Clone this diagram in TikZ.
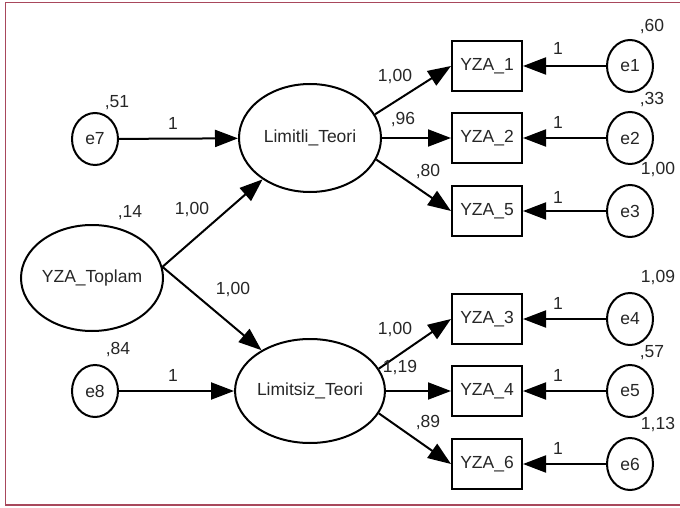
\documentclass[tikz,border=0pt]{standalone}
\usepackage{fontspec}
\setmainfont{Liberation Sans}
\usetikzlibrary{arrows.meta,shapes.geometric}
\definecolor{framecol}{RGB}{168,72,92}
\begin{document}
\begin{tikzpicture}[x=1pt,y=-1pt,
  font=\fontsize{17.5}{19}\selectfont,
  every node/.style={text=black!85},
  errc/.style={draw=black,ellipse,line width=2pt,minimum width=46pt,minimum height=52pt,inner sep=0pt},
  latent/.style={draw=black,ellipse,line width=2pt,minimum width=142pt,minimum height=106pt,inner sep=0pt},
  obsbox/.style={draw=black,rectangle,line width=2pt,minimum width=70pt,minimum height=50pt,inner sep=0pt},
  path/.style={draw=black,line width=2pt,-{Triangle[length=23pt,width=17pt]}},
  lbl/.style={inner sep=0pt}]
\useasboundingbox (0,0) rectangle (680,508);
\draw[framecol,line width=1.3pt] (5.5,2.5) rectangle (684,505);

% latent variables
\node[latent] (top) at (92,278) {YZA\_Toplam};
\node[latent,minimum height=108pt] (lim) at (310,138) {Limitli\_Teori};
\node[latent,minimum width=140pt,minimum height=104pt] (lsz) at (310,391) {Limitsiz\_Teori};

% disturbances
\node[errc] (e7) at (95,139) {e7};
\node[errc] (e8) at (95,391) {e8};

% observed
\node[obsbox] (y1) at (487,66) {YZA\_1};
\node[obsbox] (y2) at (487,138) {YZA\_2};
\node[obsbox] (y5) at (487,211) {YZA\_5};
\node[obsbox] (y3) at (487,319) {YZA\_3};
\node[obsbox] (y4) at (487,391) {YZA\_4};
\node[obsbox] (y6) at (487,464) {YZA\_6};

% errors
\node[errc] (e1) at (630,66) {e1};
\node[errc] (e2) at (630,138) {e2};
\node[errc] (e3) at (630,211) {e3};
\node[errc] (e4) at (630,319) {e4};
\node[errc] (e5) at (630,391) {e5};
\node[errc] (e6) at (630,464) {e6};

% structural paths
\draw[path] (top.9) -- (lim);
\draw[path] (top.9) -- (lsz);
\draw[path] (e7) -- (lim);
\draw[path] (e8) -- (lsz);

% loadings
\draw[path] (lim.20) -- (y1.west);
\draw[path] (lim) -- (y2);
\draw[path] (lim.-18) -- (y5.west);
\draw[path] (lsz.18) -- (y3.west);
\draw[path] (lsz) -- (y4);
\draw[path] (lsz.-18) -- (y6.west);

% error paths
\draw[path] (e1) -- (y1);
\draw[path] (e2) -- (y2);
\draw[path] (e3) -- (y5);
\draw[path] (e4) -- (y3);
\draw[path] (e5) -- (y4);
\draw[path] (e6) -- (y6);

% labels
\node[lbl] (l51) at (117,103) {,51};
\node[lbl] (l14) at (130,213) {,14};
\node[lbl] (l84) at (118,350) {,84};
\node[lbl] (lp7) at (173,123) {1};
\node[lbl] (lp8) at (173,375) {1};
\node[lbl] (ltl) at (192,210) {1,00};
\node[lbl] (lts) at (233,290) {1,00};

\node[lbl] (a1) at (395,77) {1,00};
\node[lbl] (a2) at (403,120) {,96};
\node[lbl] (a5) at (428,172) {,80};
\node[lbl] (a3) at (395,330) {1,00};
\node[lbl] (a4) at (400,368) {1,19};
\node[lbl] (a6) at (428,423) {,89};

\node[lbl] (o1) at (558,48) {1};
\node[lbl] (o2) at (558,122) {1};
\node[lbl] (o5) at (558,197) {1};
\node[lbl] (o3) at (558,303) {1};
\node[lbl] (o4) at (558,375) {1};
\node[lbl] (o6) at (558,448) {1};

\node[lbl] (v1) at (652,27) {,60};
\node[lbl] (v2) at (652,100) {,33};
\node[lbl] (v3) at (658,170) {1,00};
\node[lbl] (v4) at (658,278) {1,09};
\node[lbl] (v5) at (652,353) {,57};
\node[lbl] (v6) at (658,425) {1,13};
\end{tikzpicture}
\end{document}
